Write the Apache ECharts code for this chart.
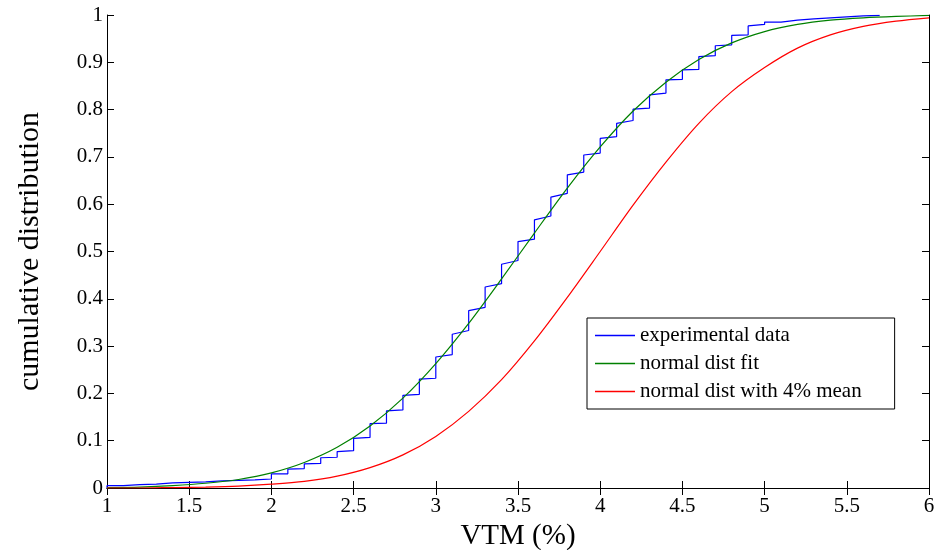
<!DOCTYPE html>
<html>
<head>
<meta charset="utf-8">
<script src="https://cdn.jsdelivr.net/npm/echarts@6/dist/echarts.min.js"></script>
<style>
  html, body { margin: 0; padding: 0; background: #fff; }
  #chart { width: 937px; height: 550px; }
</style>
</head>
<body>
<div id="chart"></div>
<script>
// x ticks / y ticks
const xTicks = [1, 1.5, 2, 2.5, 3, 3.5, 4, 4.5, 5, 5.5, 6];
const yTicks = [0, 0.1, 0.2, 0.3, 0.4, 0.5, 0.6, 0.7, 0.8, 0.9, 1];

// experimental data: value just before and just after each jump
const expX = [1.0, 1.1, 1.2, 1.3, 1.4, 1.5, 1.6, 1.7, 1.8, 1.9,
              2.0, 2.1, 2.2, 2.3, 2.4, 2.5, 2.6, 2.7, 2.8, 2.9,
              3.0, 3.1, 3.2, 3.3, 3.4, 3.5, 3.6, 3.7, 3.8, 3.9,
              4.0, 4.1, 4.2, 4.3, 4.4, 4.5, 4.6, 4.7, 4.8, 4.9,
              5.0, 5.1, 5.2, 5.3, 5.4, 5.5, 5.6, 5.7];
const expLow = [0, 0.005, 0.007, 0.008, 0.011, 0.012, 0.013, 0.015, 0.016, 0.017,
                0.019, 0.030, 0.041, 0.052, 0.065, 0.079, 0.107, 0.137, 0.165, 0.198,
                0.232, 0.282, 0.333, 0.382, 0.432, 0.481, 0.526, 0.575, 0.623, 0.668,
                0.708, 0.743, 0.777, 0.803, 0.835, 0.864, 0.885, 0.914, 0.937, 0.958,
                0.980, 0.985, 0.989, 0.992, 0.994, 0.996, 0.998, 0.999];
const expHigh = [0.005, 0.007, 0.008, 0.010, 0.012, 0.013, 0.015, 0.016, 0.017, 0.019,
                 0.030, 0.040, 0.051, 0.064, 0.077, 0.105, 0.136, 0.163, 0.196, 0.230,
                 0.277, 0.325, 0.375, 0.425, 0.473, 0.521, 0.567, 0.615, 0.662, 0.704,
                 0.739, 0.771, 0.801, 0.831, 0.863, 0.884, 0.912, 0.935, 0.957, 0.977,
                 0.985, 0.989, 0.992, 0.994, 0.996, 0.998, 0.999, 1.0];

// fitted curves
const curveX = [1.0, 1.2, 1.4, 1.6, 1.8, 2.0, 2.2, 2.4, 2.6, 2.8, 3.0, 3.2, 3.4,
                3.6, 3.8, 4.0, 4.2, 4.4, 4.6, 4.8, 5.0, 5.2, 5.4, 5.6, 5.8, 6.0];
const fitY = [0.001, 0.002, 0.005, 0.010, 0.018, 0.032, 0.054, 0.086, 0.131, 0.190, 0.263, 0.348, 0.442,
              0.539, 0.634, 0.721, 0.797, 0.858, 0.906, 0.941, 0.965, 0.980, 0.989, 0.994, 0.997, 0.999];
const meanY = [0.000, 0.000, 0.001, 0.002, 0.004, 0.008, 0.014, 0.025, 0.043, 0.070, 0.109, 0.162, 0.229,
               0.311, 0.403, 0.500, 0.598, 0.689, 0.771, 0.838, 0.889, 0.930, 0.958, 0.976, 0.987, 0.994];

const seriesNames = ['experimental data', 'normal dist fit', 'normal dist with 4% mean'];
const seriesColors = ['#0000ff', '#008000', '#ff0000'];

const expPoints = [];
expX.forEach((x, i) => {
  expPoints.push([x, expLow[i]]);
  expPoints.push([x, expHigh[i]]);
});
const fitPoints = curveX.map((x, i) => [x, fitY[i]]);
const meanPoints = curveX.map((x, i) => [x, meanY[i]]);

const font = '"Liberation Serif", "Times New Roman", serif';

const chart = echarts.init(document.getElementById('chart'));

const axisCommon = {
  type: 'value',
  axisLine: { show: true, lineStyle: { color: '#000', width: 1 } },
  axisTick: { show: true, inside: true, length: 7, lineStyle: { color: '#000' } },
  splitLine: { show: false }
};

const option = {
  backgroundColor: '#fff',
  animation: false,
  grid: { left: 107, right: 8, top: 15, bottom: 62, containLabel: false, outerBoundsMode: 'none' },
  legend: {
    orient: 'vertical',
    left: 587,
    top: 318,
    padding: [7, 33, 7, 8],
    itemGap: 7,
    itemWidth: 40,
    itemHeight: 1.5,
    icon: 'rect',
    backgroundColor: '#fff',
    borderColor: '#000',
    borderWidth: 1,
    borderRadius: 0,
    textStyle: { fontFamily: font, fontSize: 21, color: '#000', lineHeight: 20 },
    data: seriesNames.map((name, i) => ({
      name: name,
      itemStyle: { color: seriesColors[i] }
    }))
  },
  xAxis: [
    Object.assign({}, axisCommon, {
      min: xTicks[0], max: xTicks[xTicks.length - 1], interval: xTicks[1] - xTicks[0],
      name: 'VTM (%)', nameLocation: 'middle', nameGap: 31,
      nameTextStyle: { fontFamily: font, fontSize: 29, color: '#000' },
      axisLabel: { fontFamily: font, fontSize: 21, color: '#000', margin: 8 }
    }),
    Object.assign({}, axisCommon, {
      position: 'top',
      min: xTicks[0], max: xTicks[xTicks.length - 1], interval: xTicks[1] - xTicks[0],
      axisLabel: { show: false }
    })
  ],
  yAxis: [
    Object.assign({}, axisCommon, {
      min: yTicks[0], max: yTicks[yTicks.length - 1], interval: 0.1,
      name: 'cumulative distribution', nameLocation: 'middle', nameGap: 62,
      nameTextStyle: { fontFamily: font, fontSize: 30, color: '#000' },
      axisLabel: { fontFamily: font, fontSize: 21, color: '#000', margin: 4 }
    }),
    Object.assign({}, axisCommon, {
      position: 'right',
      min: yTicks[0], max: yTicks[yTicks.length - 1], interval: 0.1,
      axisLabel: { show: false }
    })
  ],
  series: [
    {
      name: seriesNames[0],
      type: 'line',
      data: expPoints,
      showSymbol: false,
      symbol: 'none',
      lineStyle: { color: seriesColors[0], width: 1.2 },
      itemStyle: { color: seriesColors[0] }
    },
    {
      name: seriesNames[1],
      type: 'line',
      data: fitPoints,
      smooth: 0.3,
      showSymbol: false,
      symbol: 'none',
      lineStyle: { color: seriesColors[1], width: 1.2 },
      itemStyle: { color: seriesColors[1] }
    },
    {
      name: seriesNames[2],
      type: 'line',
      data: meanPoints,
      smooth: 0.3,
      showSymbol: false,
      symbol: 'none',
      lineStyle: { color: seriesColors[2], width: 1.2 },
      itemStyle: { color: seriesColors[2] }
    }
  ]
};

chart.setOption(option);
window.addEventListener('resize', () => chart.resize());
</script>
</body>
</html>
